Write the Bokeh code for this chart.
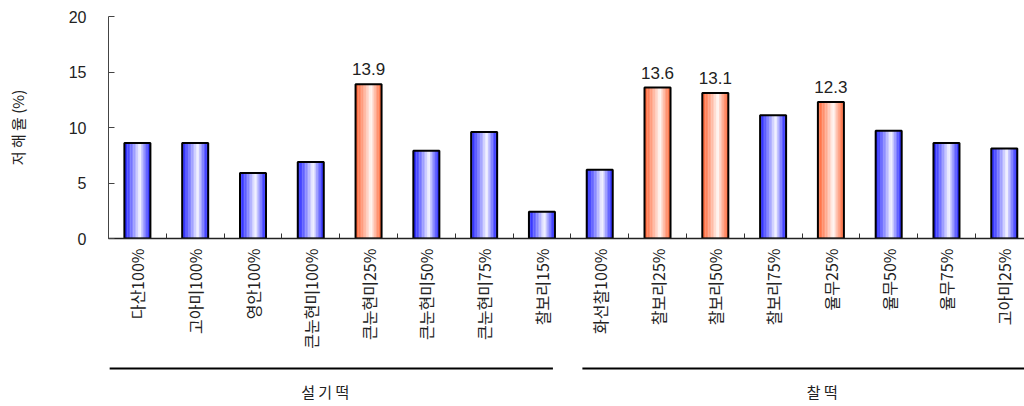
import math
from bokeh.plotting import figure
from bokeh.models import (Range1d, FixedTicker, ColumnDataSource, LabelSet)
from bokeh.core.properties import value
from bokeh.layouts import column
from bokeh.embed import file_html
from bokeh.resources import INLINE

# ---------------- data ----------------
categories = ["다산100%", "고아미100%", "영안100%", "큰눈현미100%", "큰눈현미25%",
              "큰눈현미50%", "큰눈현미75%", "찰보리15%",
              "화선찰100%", "찰보리25%", "찰보리50%", "찰보리75%", "율무25%",
              "율무50%", "율무75%", "고아미25%"]
values = [8.6, 8.6, 5.9, 6.9, 13.9, 7.9, 9.6, 2.4,
          6.2, 13.6, 13.1, 11.1, 12.3, 9.7, 8.6, 8.1]
highlighted = ["큰눈현미25%", "찰보리25%", "찰보리50%", "율무25%"]
groups = ["설 기 떡", "찰 떡"]
group_sizes = [8, 8]
y_ticks = [0, 5, 10, 15, 20]
y_title = "저 해 율 (%)"

KR = "Noto Sans CJK KR"
NUM = "Liberation Sans"
TXT = "#222222"

n = len(categories)
centers = [i + 0.5 for i in range(n)]
is_hl = [c in highlighted for c in categories]

x_range = Range1d(0, 15.85)

p = figure(width=1024, height=356, x_range=x_range, y_range=Range1d(0, 20),
           output_backend="svg", toolbar_location=None,
           min_border_left=108, min_border_right=0, min_border_top=16,
           min_border_bottom=118)
p.outline_line_color = None
p.xgrid.visible = False
p.ygrid.visible = False
p.background_fill_color = "white"
p.border_fill_color = "white"

# ---- gradient bars (drawn as thin vertical strips) ----
BAR_W = 0.45
N_STRIPS = 17
PEAK = 0.6
blue_edge = (25, 25, 255)
red_edge = (255, 95, 45)


def mix(edge, t):
    if t < PEAK:
        s = (PEAK - t) / PEAK
    else:
        s = (t - PEAK) / (1 - PEAK)
    s = s ** 0.85
    r = int(round(255 * (1 - s) + edge[0] * s))
    g = int(round(255 * (1 - s) + edge[1] * s))
    b = int(round(255 * (1 - s) + edge[2] * s))
    return "#%02x%02x%02x" % (r, g, b)


sw = BAR_W / N_STRIPS
for k in range(N_STRIPS):
    t = (k + 0.5) / N_STRIPS
    off = -BAR_W / 2 + (k + 0.5) * sw
    cols = [mix(red_edge if h else blue_edge, t) for h in is_hl]
    src = ColumnDataSource(dict(x=[c + off for c in centers], top=values, color=cols))
    p.vbar(x="x", top="top", bottom=0, width=sw * 1.15, source=src,
           fill_color="color", line_color=None)

p.vbar(x=centers, top=values, bottom=0, width=BAR_W, fill_color=None,
       line_color="black", line_width=2)

# ---- value labels on highlighted bars ----
lab_src = ColumnDataSource(dict(
    x=[c for c, h in zip(centers, is_hl) if h],
    y=[v for v, h in zip(values, is_hl) if h],
    t=["%.1f" % v for v, h in zip(values, is_hl) if h]))
p.add_layout(LabelSet(x="x", y="y", text="t", source=lab_src, y_offset=9,
                      text_align="center", text_baseline="bottom",
                      text_font=value(NUM), text_font_size=value("17px"),
                      text_color=TXT))

# ---- x axis ----
xa = p.xaxis[0]
xa.ticker = FixedTicker(ticks=centers, minor_ticks=list(range(n + 1)))
xa.major_label_overrides = {c: lab for c, lab in zip(centers, categories)}
xa.major_label_orientation = math.pi / 2
xa.major_label_text_font = KR
xa.major_label_text_font_size = "16px"
xa.major_label_text_color = TXT
xa.major_label_standoff = 10
xa.major_tick_in = 0
xa.major_tick_out = 0
xa.minor_tick_in = 5
xa.minor_tick_out = 0
xa.minor_tick_line_color = "#333333"
xa.axis_line_color = "#222222"
xa.axis_line_width = 1.5

# ---- y axis ----
ya = p.yaxis[0]
ya.ticker = FixedTicker(ticks=y_ticks)
ya.major_label_text_font = NUM
ya.major_label_text_font_size = "16px"
ya.major_label_text_color = TXT
ya.major_label_standoff = 22
ya.major_tick_in = 6
ya.major_tick_out = 0
ya.minor_tick_in = 0
ya.minor_tick_out = 0
ya.axis_line_color = "#444444"
ya.major_tick_line_color = "#444444"
ya.axis_label = y_title
ya.axis_label_text_font = KR
ya.axis_label_text_font_size = "15px"
ya.axis_label_text_font_style = "normal"
ya.axis_label_text_color = TXT
ya.axis_label_standoff = 38

# ---------------- group band below ----------------
g = figure(width=1024, height=50, x_range=x_range, y_range=Range1d(0, 1),
           output_backend="svg", toolbar_location=None,
           x_axis_location=None, y_axis_location=None,
           min_border_left=108, min_border_right=0, min_border_top=0,
           min_border_bottom=0)
g.outline_line_color = None
g.xgrid.visible = False
g.ygrid.visible = False

starts, ends = [], []
acc = 0
for s in group_sizes:
    starts.append(acc)
    ends.append(acc + s)
    acc += s
LINE_IN = [(0.02, 0.31), (0.2, 0.0)]
x0 = [st + a for st, (a, b) in zip(starts, LINE_IN)]
x1 = [en - b for en, (a, b) in zip(ends, LINE_IN)]
g.segment(x0=x0, y0=0.76, x1=x1, y1=0.76, line_color="black", line_width=2.2)
LABEL_DX = [-0.25, 0.35]
gx = [(st + en) / 2 + d for st, en, d in zip(starts, ends, LABEL_DX)]
g.text(x=gx, y=[0.30] * len(groups), text=groups, text_align="center",
       text_baseline="middle", text_font_size="15px", text_color=TXT,
       text_font=value(KR))

layout = column(p, g, spacing=0)
open("out.html", "w").write(file_html(layout, INLINE))
